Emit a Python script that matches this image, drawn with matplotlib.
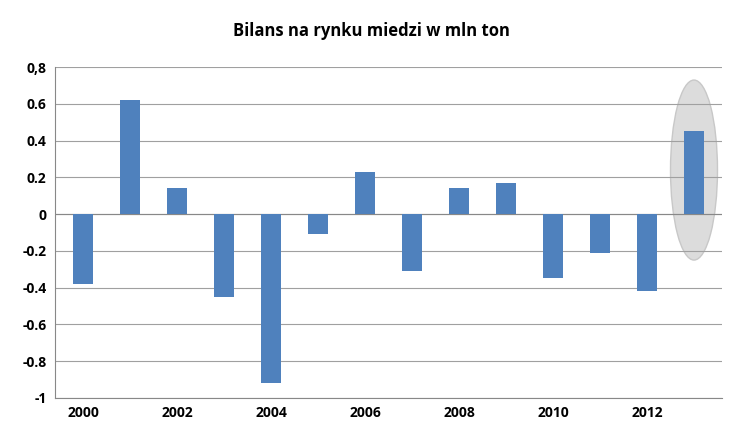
import matplotlib
matplotlib.use("Agg")
import matplotlib.pyplot as plt
from matplotlib.patches import Ellipse

years = list(range(2000, 2014))
values = [-0.38, 0.62, 0.14, -0.45, -0.92, -0.11, 0.23, -0.31, 0.14, 0.17, -0.35, -0.21, -0.42, 0.45]
yticks = [0.8, 0.6, 0.4, 0.2, 0, -0.2, -0.4, -0.6, -0.8, -1]
ylabels = ["0,8", "0.6", "0.4", "0.2", "0", "-0.2", "-0.4", "-0.6", "-0.8", "-1"]
xticks = [2000, 2002, 2004, 2006, 2008, 2010, 2012]

plt.rcParams['font.family'] = ['Open Sans', 'DejaVu Sans']
fig = plt.figure(figsize=(7.43, 4.45), dpi=100)
ax = fig.add_axes([0.074, 0.106, 0.898, 0.743])
ax.add_patch(Ellipse((2013, 0.24), 1.0, 0.98, facecolor='#dcdcdc', edgecolor='#c8c8c8', zorder=1))
ax.bar(years, values, width=0.42, color='#4f81bd', zorder=3)
ax.set_ylim(-1, 0.8)
ax.set_xlim(1999.4, 2013.6)
ax.set_yticks(yticks)
ax.set_yticklabels(ylabels, fontsize=10, fontweight='bold')
ax.set_xticks(xticks)
ax.set_xticklabels([str(x) for x in xticks], fontsize=10, fontweight='bold')
ax.grid(axis='y', color='#a0a0a0', linewidth=0.8, zorder=0)
ax.axhline(0, color='#888888', linewidth=0.8, zorder=2)
for s in ['top', 'right']:
    ax.spines[s].set_visible(False)
ax.spines['left'].set_color('#888888')
ax.spines['bottom'].set_color('#888888')
ax.tick_params(length=0, pad=6)
fig.suptitle("Bilans na rynku miedzi w mln ton", y=0.95, fontsize=12, fontweight='bold')
fig.savefig("out.png", dpi=100)
